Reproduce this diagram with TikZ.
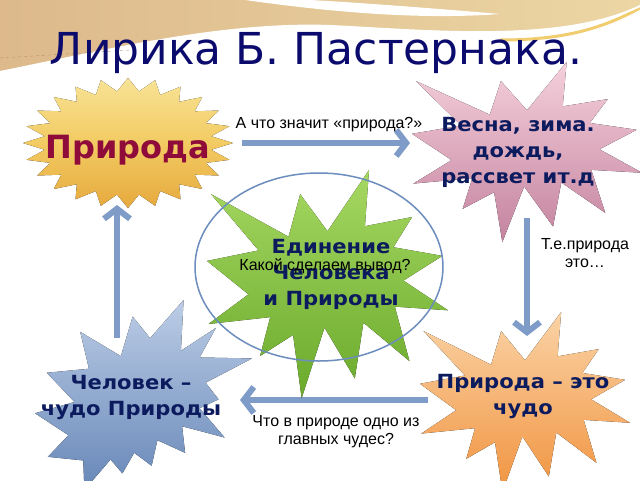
\documentclass[tikz,border=0pt]{standalone}
\usepackage{fontspec}
\setmainfont{Liberation Sans}
\newfontfamily\titlefont{DejaVu Sans}
\newfontfamily\naturefont{DejaVu Sans}
\newfontfamily\starfont{DejaVu Sans}[FakeStretch=1.08]
\usetikzlibrary{arrows.meta}

\definecolor{titleblue}{HTML}{0B0B6E}
\definecolor{labelblue}{HTML}{0C1A5E}
\definecolor{maroon}{HTML}{8E0B3A}
\definecolor{flowblue}{HTML}{7F9BC8}
\definecolor{ringblue}{HTML}{6C8DBD}
\definecolor{tanL}{HTML}{DDB98B}
\definecolor{tanR}{HTML}{ECD6A4}
\definecolor{goldT}{HTML}{F8E396}
\definecolor{goldM}{HTML}{F2CB62}
\definecolor{goldB}{HTML}{E6A93E}
\definecolor{pinkT}{HTML}{F5D0DB}
\definecolor{pinkB}{HTML}{C4839F}
\definecolor{greenT}{HTML}{A6D862}
\definecolor{greenB}{HTML}{6AAA2C}
\definecolor{blueT}{HTML}{BCCDE6}
\definecolor{blueB}{HTML}{6787B8}
\definecolor{orangeT}{HTML}{FAD3A6}
\definecolor{orangeB}{HTML}{F19440}

% explosion outlines in a 216 x 216 box
\newcommand{\explone}{(108,58) -- (145.22,0) -- (141.55,53.25) -- (183.8,44.57) -- (167.02,73.15) -- (210.97,81.37) -- (176.07,104.75) -- (216,132.9) -- (168.37,129.42) -- (181.45,180.95) -- (140.2,144.57) -- (132.47,197.37) -- (105.32,149.35) -- (84.85,216) -- (77.15,156.27) -- (47.62,176.17) -- (56.67,139.37) -- (1.35,145.87) -- (37.22,117.75) -- (0,86.15) -- (46.27,76.17) -- (3.7,22.95) -- (73.12,63.2) -- (83.52,22.95) -- cycle}
\newcommand{\expltwo}{(114.62,43.42) -- (147.9,0) -- (145.25,57.77) -- (180.07,31.72) -- (163.8,65.32) -- (216,66.45) -- (169.85,94.02) -- (182.7,112.9) -- (163.8,123.1) -- (188.77,156.32) -- (146.4,143.5) -- (149.42,173.7) -- (121.8,159.35) -- (116.12,188.42) -- (98.72,173.7) -- (87,197.12) -- (75.27,181.25) -- (49.17,216) -- (48.05,182.4) -- (12.85,178.25) -- (33.3,153.7) -- (0,128.77) -- (39.35,115.92) -- (11.72,82.7) -- (53.72,78.17) -- (45.02,36.25) -- (85.5,63.82) -- (97.22,18.87) -- cycle}

\tikzset{
  starlbl/.style={font=\starfont\bfseries\fontsize{19.5}{26}\selectfont, text=labelblue, align=center, inner sep=0pt},
  qlbl/.style={font=\fontsize{16}{18}\selectfont, text=black, align=center, inner sep=0pt},
  flow/.style={draw=flowblue, line width=6pt, -{Straight Barb[length=10pt,width=26pt]}},
}

\begin{document}
\begin{tikzpicture}[x=1pt, y=-1pt, line join=round]
  \useasboundingbox (0,0) rectangle (640,480);
  \fill[white] (0,0) rectangle (640,480);

  % top band
  \fill[left color=tanL, right color=tanR] (0,0) -- (640,0) -- (640,6)
    .. controls (560,45) and (420,30) .. (330,26)
    .. controls (220,22) and (100,52) .. (0,72) -- cycle;
  \fill[white] (245,0) .. controls (330,12) and (420,20) .. (500,14)
    .. controls (430,8) and (350,2) .. (310,0) -- cycle;
  \draw[goldM!80!tanR, line width=3pt] (640,8) .. controls (600,30) and (560,40) .. (500,40);
  \draw[white, line width=2pt] (640,6) .. controls (560,45) and (420,30) .. (330,26)
    .. controls (220,22) and (100,52) .. (0,72);
  \draw[color=tanL!80!black, line width=0.4pt, dashed] (0,58) -- (130,50);

  \node[font=\titlefont\fontsize{44}{50}\selectfont, text=titleblue, anchor=base] (title) at (316,64) {Лирика Б. Пастернака.};

  % connectors
  \coordinate (meanS) at (242,143);
  \coordinate (meanE) at (410,143);
  \coordinate (thatS) at (527,218);
  \coordinate (thatE) at (527,336);
  \coordinate (wonderS) at (428,400);
  \coordinate (wonderE) at (240,400);
  \coordinate (backS) at (117,338);
  \coordinate (backE) at (117,205);
  \draw[flow] (meanS) -- (meanE);
  \draw[flow] (thatS) -- (thatE);
  \draw[flow] (wonderS) -- (wonderE);
  \draw[flow] (backS) -- (backE);

  % stars
  \begin{scope}[shift={(128,143)}]
    \fill[top color=goldT, bottom color=goldB, middle color=goldM]
      (0:105 and 65) \foreach \k in {1,...,47} {
        -- ({\k*7.5}:{105*(1-0.2*mod(\k,2))} and {65*(1-0.2*mod(\k,2))})} -- cycle;
  \end{scope}
  \begin{scope}[shift={(412,62)}, xscale=1.0648, yscale=0.8333]
    \fill[top color=pinkT, bottom color=pinkB] \explone;
  \end{scope}
  \begin{scope}[shift={(207,170)}, xscale=1.1157, yscale=1.0556]
    \fill[top color=greenT, bottom color=greenB] \explone;
  \end{scope}
  \begin{scope}[shift={(35,300)}, xscale=1.0046, yscale=0.8796]
    \fill[top color=blueT, bottom color=blueB] \expltwo;
  \end{scope}
  \begin{scope}[shift={(420,312)}, xscale=0.9722, yscale=0.8333]
    \fill[top color=orangeT, bottom color=orangeB] \explone;
  \end{scope}

  \draw[ringblue, line width=1.5pt] (319,267) ellipse [x radius=124, y radius=94];

  % star texts
  \node[starlbl, text=maroon, font=\naturefont\bfseries\fontsize{32}{36}\selectfont] (nature) at (128,150) {Природа};
  \node[starlbl] (seasons) at (518,152) {Весна, зима.\\дождь,\\рассвет ит.д};
  \node[starlbl] (unity) at (331,274) {Единение\\Человека\\и Природы};
  \node[starlbl] (human) at (131,397) {Человек –\\чудо Природы};
  \node[starlbl] (miracle) at (523,396) {Природа – это\\чудо};

  % questions
  \node[qlbl, anchor=base] (qmean) at (329,128) {А что значит «природа?»};
  \node[qlbl] (qthat) at (585,253) {Т.е.природа\\это…};
  \node[qlbl, anchor=base] (qconcl) at (325,270) {Какой сделаем вывод?};
  \node[qlbl] (qwonder) at (336,432) {Что в природе одно из\\главных чудес?};
\end{tikzpicture}
\end{document}
